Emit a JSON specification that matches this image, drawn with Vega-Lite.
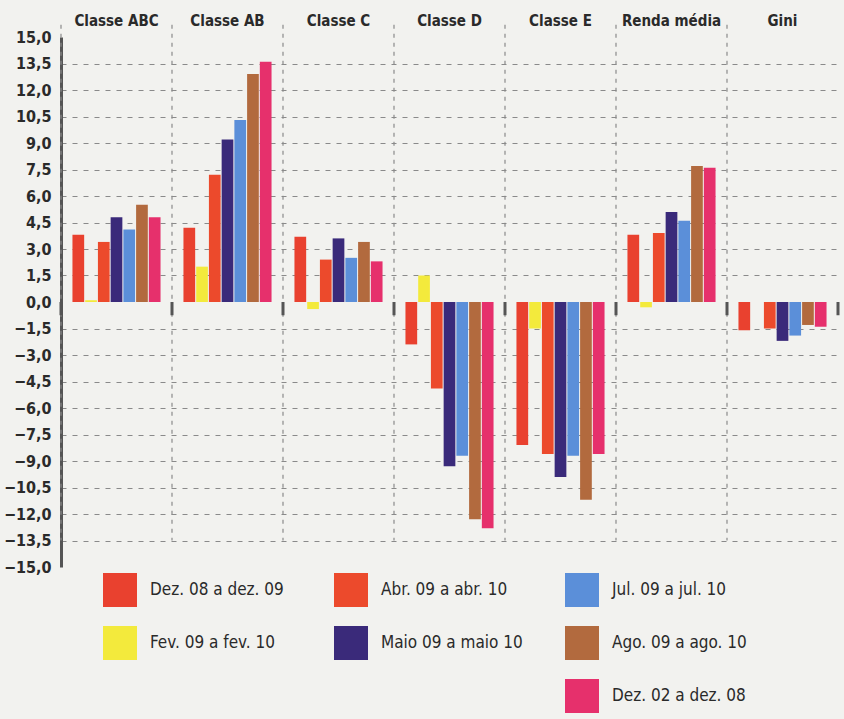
{
  "$schema": "https://vega.github.io/schema/vega-lite/v6.json",
  "autosize": {"type": "none"},
  "width": 777,
  "height": 530,
  "padding": {"left": 61, "top": 37, "right": 6, "bottom": 152},
  "background": "#f2f2ef",
  "config": {
    "view": {"stroke": null},
    "font": "DejaVu Sans Condensed, sans-serif"
  },
  "datasets": {
    "bars": [
      {"g": "Classe ABC", "s": "Dez. 08 a dez. 09", "v": 3.8},
      {"g": "Classe ABC", "s": "Fev. 09 a fev. 10", "v": 0.1},
      {"g": "Classe ABC", "s": "Abr. 09 a abr. 10", "v": 3.4},
      {"g": "Classe ABC", "s": "Maio 09 a maio 10", "v": 4.8},
      {"g": "Classe ABC", "s": "Jul. 09 a jul. 10", "v": 4.1},
      {"g": "Classe ABC", "s": "Ago. 09 a ago. 10", "v": 5.5},
      {"g": "Classe ABC", "s": "Dez. 02 a dez. 08", "v": 4.8},
      {"g": "Classe AB", "s": "Dez. 08 a dez. 09", "v": 4.2},
      {"g": "Classe AB", "s": "Fev. 09 a fev. 10", "v": 2.0},
      {"g": "Classe AB", "s": "Abr. 09 a abr. 10", "v": 7.2},
      {"g": "Classe AB", "s": "Maio 09 a maio 10", "v": 9.2},
      {"g": "Classe AB", "s": "Jul. 09 a jul. 10", "v": 10.3},
      {"g": "Classe AB", "s": "Ago. 09 a ago. 10", "v": 12.9},
      {"g": "Classe AB", "s": "Dez. 02 a dez. 08", "v": 13.6},
      {"g": "Classe C", "s": "Dez. 08 a dez. 09", "v": 3.7},
      {"g": "Classe C", "s": "Fev. 09 a fev. 10", "v": -0.4},
      {"g": "Classe C", "s": "Abr. 09 a abr. 10", "v": 2.4},
      {"g": "Classe C", "s": "Maio 09 a maio 10", "v": 3.6},
      {"g": "Classe C", "s": "Jul. 09 a jul. 10", "v": 2.5},
      {"g": "Classe C", "s": "Ago. 09 a ago. 10", "v": 3.4},
      {"g": "Classe C", "s": "Dez. 02 a dez. 08", "v": 2.3},
      {"g": "Classe D", "s": "Dez. 08 a dez. 09", "v": -2.4},
      {"g": "Classe D", "s": "Fev. 09 a fev. 10", "v": 1.5},
      {"g": "Classe D", "s": "Abr. 09 a abr. 10", "v": -4.9},
      {"g": "Classe D", "s": "Maio 09 a maio 10", "v": -9.3},
      {"g": "Classe D", "s": "Jul. 09 a jul. 10", "v": -8.7},
      {"g": "Classe D", "s": "Ago. 09 a ago. 10", "v": -12.3},
      {"g": "Classe D", "s": "Dez. 02 a dez. 08", "v": -12.8},
      {"g": "Classe E", "s": "Dez. 08 a dez. 09", "v": -8.1},
      {"g": "Classe E", "s": "Fev. 09 a fev. 10", "v": -1.5},
      {"g": "Classe E", "s": "Abr. 09 a abr. 10", "v": -8.6},
      {"g": "Classe E", "s": "Maio 09 a maio 10", "v": -9.9},
      {"g": "Classe E", "s": "Jul. 09 a jul. 10", "v": -8.7},
      {"g": "Classe E", "s": "Ago. 09 a ago. 10", "v": -11.2},
      {"g": "Classe E", "s": "Dez. 02 a dez. 08", "v": -8.6},
      {"g": "Renda média", "s": "Dez. 08 a dez. 09", "v": 3.8},
      {"g": "Renda média", "s": "Fev. 09 a fev. 10", "v": -0.3},
      {"g": "Renda média", "s": "Abr. 09 a abr. 10", "v": 3.9},
      {"g": "Renda média", "s": "Maio 09 a maio 10", "v": 5.1},
      {"g": "Renda média", "s": "Jul. 09 a jul. 10", "v": 4.6},
      {"g": "Renda média", "s": "Ago. 09 a ago. 10", "v": 7.7},
      {"g": "Renda média", "s": "Dez. 02 a dez. 08", "v": 7.6},
      {"g": "Gini", "s": "Dez. 08 a dez. 09", "v": -1.6},
      {"g": "Gini", "s": "Abr. 09 a abr. 10", "v": -1.5},
      {"g": "Gini", "s": "Maio 09 a maio 10", "v": -2.2},
      {"g": "Gini", "s": "Jul. 09 a jul. 10", "v": -1.9},
      {"g": "Gini", "s": "Ago. 09 a ago. 10", "v": -1.3},
      {"g": "Gini", "s": "Dez. 02 a dez. 08", "v": -1.4}
    ],
    "groups": [
      {"g": "Classe ABC"}, {"g": "Classe AB"}, {"g": "Classe C"}, {"g": "Classe D"},
      {"g": "Classe E"}, {"g": "Renda média"}, {"g": "Gini"}
    ]
  },
  "layer": [
    {
      "data": {"name": "groups"},
      "mark": {"type": "rule", "color": "#8a8a8a", "strokeWidth": 1.2, "strokeDash": [4, 5]},
      "encoding": {
        "x": {"field": "g", "type": "nominal", "bandPosition": 0,
              "scale": {"domain": ["Classe ABC", "Classe AB", "Classe C", "Classe D", "Classe E", "Renda média", "Gini"], "paddingInner": 0, "paddingOuter": 0},
              "axis": {"orient": "top", "title": null, "domain": false, "ticks": false, "grid": false, "labelAngle": 0, "labelFontSize": 15, "labelFontWeight": "bold", "labelColor": "#2a2a2a", "labelPadding": 9, "bandPosition": 0.5}},
        "y": {"datum": 15.7, "type": "quantitative", "scale": {"domain": [-15, 15], "nice": false, "zero": false},
              "axis": {"title": null, "values": [-15, -13.5, -12, -10.5, -9, -7.5, -6, -4.5, -3, -1.5, 0, 1.5, 3, 4.5, 6, 7.5, 9, 10.5, 12, 13.5, 15],
                       "tickCount": 40,
                       "labelExpr": "replace(format(datum.value, '.1f'), '.', ',')",
                       "labelOverlap": false, "labelBound": false, "labelFlush": false,
                       "labelFontSize": 16, "labelFontWeight": "bold", "labelColor": "#2a2a2a", "labelPadding": 10,
                       "ticks": false, "domainColor": "#555555", "domainWidth": 3,
                       "grid": true, "gridColor": "#8a8a8a", "gridDash": [5, 6], "gridWidth": 1.2,
                       "gridOpacity": {"condition": {"test": "datum.value == 0 || abs(datum.value) >= 15", "value": 0}, "value": 1}}},
        "y2": {"datum": -13.5}
      }
    },
    {
      "data": {"name": "bars"},
      "mark": {"type": "bar"},
      "encoding": {
        "x": {"field": "g", "type": "nominal",
              "scale": {"domain": ["Classe ABC", "Classe AB", "Classe C", "Classe D", "Classe E", "Renda média", "Gini"], "paddingInner": 0, "paddingOuter": 0}},
        "xOffset": {"field": "s", "type": "nominal",
                    "scale": {"domain": ["Dez. 08 a dez. 09", "Fev. 09 a fev. 10", "Abr. 09 a abr. 10", "Maio 09 a maio 10", "Jul. 09 a jul. 10", "Ago. 09 a ago. 10", "Dez. 02 a dez. 08"], "paddingInner": 0.08, "paddingOuter": 0.9}},
        "y": {"field": "v", "type": "quantitative", "scale": {"domain": [-15, 15], "nice": false, "zero": false}},
        "y2": {"datum": 0},
        "color": {"field": "s", "type": "nominal",
                  "scale": {"domain": ["Dez. 08 a dez. 09", "Fev. 09 a fev. 10", " ", "Abr. 09 a abr. 10", "Maio 09 a maio 10", "  ", "Jul. 09 a jul. 10", "Ago. 09 a ago. 10", "Dez. 02 a dez. 08"],
                            "range": ["#e9412f", "#f3ea3c", "rgba(0,0,0,0)", "#ec4a2c", "#3a2a7a", "rgba(0,0,0,0)", "#5b8fd9", "#b26a3e", "#e6306c"]},
                  "legend": {"orient": "none", "legendX": 42, "legendY": 536, "columns": 3, "gridAlign": "all",
                             "columnPadding": 42, "rowPadding": 19, "padding": 0, "title": null,
                             "symbolType": "square", "symbolSize": 1156, "symbolStrokeWidth": 0, "symbolOpacity": 1,
                             "labelFontSize": 17, "labelColor": "#2a2a2a", "labelOffset": 13, "labelLimit": 300}}
      }
    },
    {
      "data": {"name": "groups"},
      "mark": {"type": "rule", "color": "#555555", "strokeWidth": 3},
      "encoding": {
        "x": {"field": "g", "type": "nominal", "bandPosition": 0,
              "scale": {"domain": ["Classe ABC", "Classe AB", "Classe C", "Classe D", "Classe E", "Renda média", "Gini"], "paddingInner": 0, "paddingOuter": 0}},
        "y": {"datum": 0, "type": "quantitative", "scale": {"domain": [-15, 15], "nice": false, "zero": false}},
        "y2": {"datum": -0.75}
      }
    },
    {
      "data": {"values": [{"g": "Gini"}]},
      "mark": {"type": "rule", "color": "#555555", "strokeWidth": 3},
      "encoding": {
        "x": {"field": "g", "type": "nominal", "bandPosition": 1,
              "scale": {"domain": ["Classe ABC", "Classe AB", "Classe C", "Classe D", "Classe E", "Renda média", "Gini"], "paddingInner": 0, "paddingOuter": 0}},
        "y": {"datum": 0, "type": "quantitative", "scale": {"domain": [-15, 15], "nice": false, "zero": false}},
        "y2": {"datum": -0.75}
      }
    },
    {
      "mark": {"type": "rule", "color": "#555555", "strokeWidth": 3},
      "encoding": {
        "y": {"datum": 0, "type": "quantitative", "scale": {"domain": [-15, 15], "nice": false, "zero": false}}
      }
    }
  ]
}
